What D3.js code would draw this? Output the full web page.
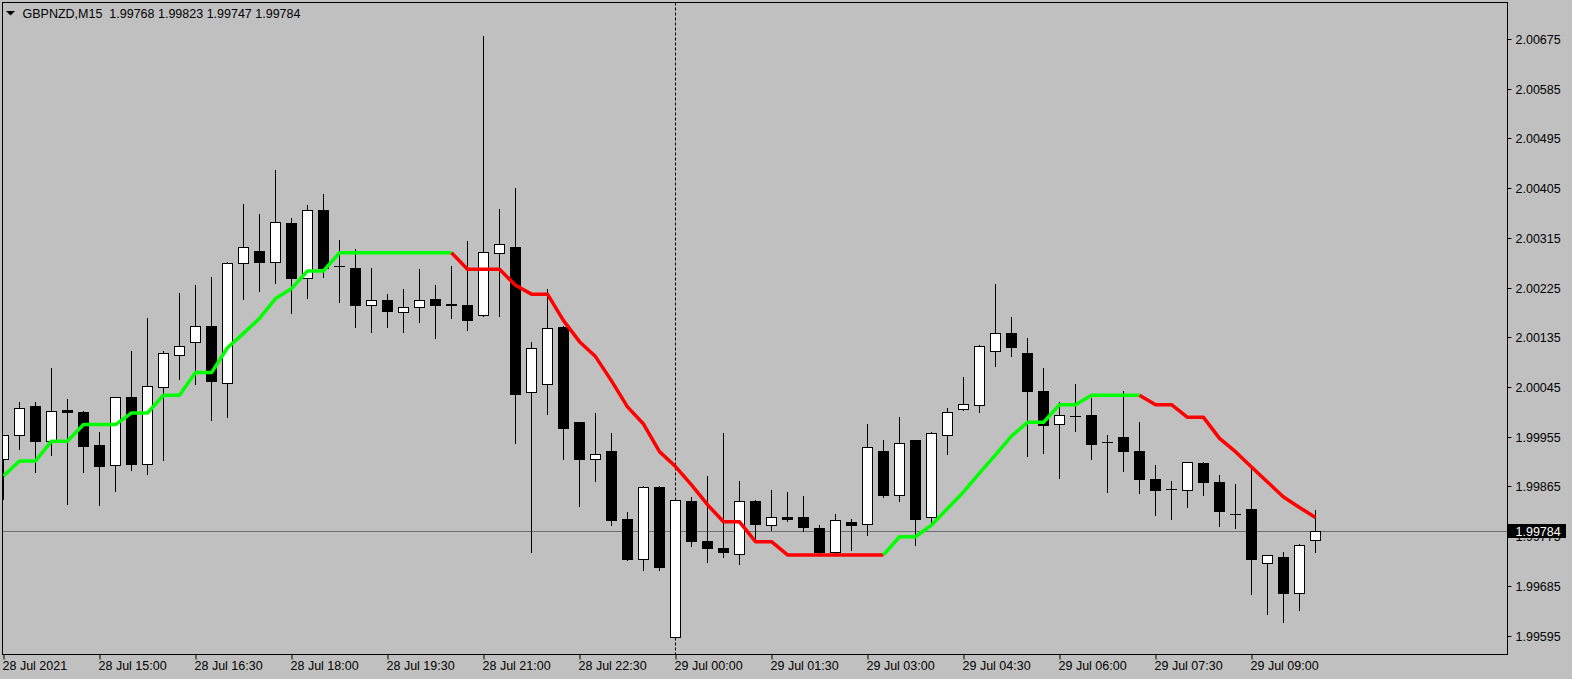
<!DOCTYPE html>
<html><head><meta charset="utf-8">
<script src="https://cdn.jsdelivr.net/npm/d3@7"></script>
<style>
html,body{margin:0;padding:0;background:#c0c0c0;overflow:hidden}
svg{display:block}
text{font-family:"Liberation Sans",Arial,sans-serif;font-size:12.5px}
</style></head><body>
<svg id="c" width="1572" height="679"></svg>
<script>
const symbol = "GBPNZD,M15";
const lastOHLC = [1.99768, 1.99823, 1.99747, 1.99784];

const opens = [1.99915,1.99958,2.00010,1.99947,2.00004,2.00000,1.99941,1.99904,2.00027,1.99906,
2.00045,2.00103,2.00127,2.00156,2.00052,2.00270,2.00292,2.00271,2.00341,2.00242,
2.00366,2.00264,2.00260,2.00194,2.00202,2.00180,2.00189,2.00204,2.00195,2.00194,
2.00176,2.00287,2.00299,2.00036,2.00050,2.00154,1.99981,1.99914,1.99929,1.99806,
1.99733,1.99864,1.99593,1.99838,1.99767,1.99754,1.99743,1.99839,1.99795,1.99810,
1.99810,1.99790,1.99746,1.99800,1.99797,1.99929,1.99850,1.99949,1.99810,1.99958,
2.00005,2.00013,2.00111,2.00143,2.00107,2.00038,1.99978,1.99993,1.99994,1.99945,
1.99955,1.99929,1.99879,1.99860,1.99859,1.99908,1.99874,1.99816,1.99825,1.99727,
1.99738,1.99672,1.99768];

const highs = [1.99960,2.00019,2.00019,2.00080,2.00025,2.00002,1.99964,2.00028,2.00111,2.00171,
2.00112,2.00216,2.00230,2.00245,2.00272,2.00377,2.00359,2.00438,2.00352,2.00375,
2.00395,2.00312,2.00296,2.00262,2.00214,2.00223,2.00259,2.00230,2.00265,2.00310,
2.00681,2.00368,2.00406,2.00128,2.00224,2.00156,1.99982,1.99999,1.99962,1.99820,
1.99866,1.99866,1.99843,1.99846,1.99885,1.99962,1.99876,1.99841,1.99859,1.99856,
1.99848,1.99797,1.99816,1.99807,1.99979,1.99950,1.99991,1.99950,1.99964,2.00008,
2.00064,2.00122,2.00232,2.00172,2.00134,2.00080,2.00018,2.00052,2.00026,1.99959,
2.00038,1.99982,1.99904,1.99876,1.99910,1.99910,1.99886,1.99870,1.99901,1.99742,
1.99747,1.99762,1.99823];

const lows = [1.99844,1.99934,1.99892,1.99923,1.99835,1.99892,1.99833,1.99858,1.99895,1.99889,
1.99914,2.00061,2.00051,1.99987,1.99992,2.00206,2.00220,2.00234,2.00180,2.00207,
2.00245,2.00200,2.00155,2.00146,2.00155,2.00146,2.00163,2.00135,2.00171,2.00149,
2.00175,2.00174,1.99944,1.99748,1.99997,1.99916,1.99831,1.99876,1.99797,1.99732,
1.99714,1.99714,1.99592,1.99759,1.99730,1.99739,1.99726,1.99771,1.99788,1.99804,
1.99786,1.99745,1.99745,1.99751,1.99778,1.99846,1.99840,1.99760,1.99795,1.99925,
2.00004,2.00000,2.00084,2.00102,1.99921,1.99927,1.99881,1.99967,1.99916,1.99856,
1.99894,1.99854,1.99814,1.99807,1.99829,1.99851,1.99795,1.99791,1.99672,1.99636,
1.99621,1.99643,1.99747];

const closes = [1.99958,2.00007,1.99947,2.00002,2.00000,1.99939,1.99903,2.00027,1.99905,2.00047,
2.00107,2.00119,2.00156,2.00056,2.00270,2.00299,2.00271,2.00343,2.00242,2.00366,
2.00261,2.00264,2.00194,2.00202,2.00183,2.00189,2.00202,2.00193,2.00194,2.00167,
2.00290,2.00304,2.00033,2.00115,2.00152,1.99970,1.99914,1.99924,1.99805,1.99734,
1.99864,1.99720,1.99841,1.99766,1.99753,1.99746,1.99839,1.99797,1.99810,1.99806,
1.99791,1.99747,1.99804,1.99795,1.99937,1.99849,1.99944,1.99807,1.99962,2.00000,
2.00014,2.00120,2.00143,2.00117,2.00037,1.99977,1.99994,1.99993,1.99942,1.99945,
1.99930,1.99878,1.99858,1.99860,1.99909,1.99873,1.99820,1.99816,1.99733,1.99741,
1.99672,1.99759,1.99784];

const trendLine = [1.99885,1.99912,1.99912,1.99948,1.99948,1.99978,1.99978,1.99978,1.99999,1.99999,
2.00031,2.00031,2.00072,2.00072,2.00117,2.00143,2.00170,2.00206,2.00224,2.00256,
2.00256,2.00289,2.00289,2.00289,2.00289,2.00289,2.00289,2.00289,2.00289,2.00259,
2.00259,2.00259,2.00230,2.00214,2.00214,2.00166,2.00128,2.00101,2.00057,2.00010,
1.99979,1.99929,1.99902,1.99869,1.99833,1.99802,1.99802,1.99766,1.99766,1.99742,
1.99742,1.99742,1.99742,1.99742,1.99742,1.99742,1.99775,1.99775,1.99796,1.99826,
1.99856,1.99890,1.99923,1.99957,1.99982,1.99982,2.00014,2.00014,2.00031,2.00031,
2.00031,2.00031,2.00014,2.00014,1.99991,1.99991,1.99953,1.99929,1.99901,1.99874,
1.99847,1.99828,1.99810];

// 1 = up (green), 0 = down (red)
const trendDir = [1,1,1,1,1,1,1,1,1,1, 1,1,1,1,1,1,1,1,1,1, 1,1,1,1,1,1,1,1,1,0,
0,0,0,0,0,0,0,0,0,0, 0,0,0,0,0,0,0,0,0,0, 0,0,0,0,0,0,1,1,1,1,
1,1,1,1,1,1,1,1,1,1, 1,1,0,0,0,0,0,0,0,0, 0,0,0];

const priceTicks = [2.00675,2.00585,2.00495,2.00405,2.00315,2.00225,2.00135,2.00045,1.99955,1.99865,1.99775,1.99685,1.99595];
const timeLabels = ["28 Jul 2021","28 Jul 15:00","28 Jul 16:30","28 Jul 18:00","28 Jul 19:30","28 Jul 21:00","28 Jul 22:30",
"29 Jul 00:00","29 Jul 01:30","29 Jul 03:00","29 Jul 04:30","29 Jul 06:00","29 Jul 07:30","29 Jul 09:00"];
const timeLabelBars = [0,6,12,18,24,30,36,42,48,54,60,66,72,78];
const separatorBar = 42;

const W = 1572, H = 679;
const plot = {left: 2.5, right: 1507.5, top: 2.5, bottom: 654.5};
const svg = d3.select("#c");

const n = closes.length;
const x = d3.scaleLinear().domain([0, n - 1]).range([3.5, 3.5 + 16 * (n - 1)]);
const y = d3.scaleLinear().domain([1.99595, 2.00675]).range([636.2, 39.4]);
const snap = v => Math.round(v - 0.5) + 0.5;

svg.append("defs").append("clipPath").attr("id", "clip")
  .append("rect").attr("x", plot.left).attr("y", plot.top)
  .attr("width", plot.right - plot.left).attr("height", plot.bottom - plot.top);

const g = svg.append("g").attr("clip-path", "url(#clip)");

// current price line
const lastClose = lastOHLC[3];
g.append("line").attr("x1", plot.left).attr("x2", plot.right)
  .attr("y1", snap(y(lastClose))).attr("y2", snap(y(lastClose)))
  .attr("stroke", "#6e6e6e").attr("stroke-width", 1);

// period separator
g.append("line").attr("x1", x(separatorBar)).attr("x2", x(separatorBar))
  .attr("y1", plot.top).attr("y2", plot.bottom)
  .attr("stroke", "#000").attr("stroke-width", 1).attr("stroke-dasharray", "3,2");

// candles
const idx = d3.range(n);
const cg = g.append("g");
cg.selectAll("line.wick").data(idx).join("line").attr("class", "wick")
  .attr("x1", i => x(i)).attr("x2", i => x(i))
  .attr("y1", i => Math.round(y(highs[i]))).attr("y2", i => Math.round(y(lows[i])) + 1)
  .attr("stroke", "#000").attr("stroke-width", 1);

idx.forEach(i => {
  const yo = snap(y(opens[i])), yc = snap(y(closes[i]));
  const cx = x(i);
  if (Math.abs(yo - yc) < 1) {
    cg.append("line").attr("x1", cx - 5.5).attr("x2", cx + 5.5)
      .attr("y1", yo).attr("y2", yo).attr("stroke", "#000").attr("stroke-width", 1);
  } else {
    const up = closes[i] > opens[i];
    cg.append("rect").attr("x", cx - 5).attr("width", 10)
      .attr("y", Math.min(yo, yc)).attr("height", Math.abs(yo - yc))
      .attr("fill", up ? "#fff" : "#000").attr("stroke", "#000").attr("stroke-width", 1);
  }
});

// trend indicator line, coloured by direction
const runs = [];
for (let i = 1; i < n; i++) {
  const c = trendDir[i];
  if (runs.length && runs[runs.length - 1].c === c) runs[runs.length - 1].pts.push(i);
  else runs.push({c, pts: [i - 1, i]});
}
const line = d3.line().x(i => x(i)).y(i => y(trendLine[i]));
g.selectAll("path.trend").data(runs).join("path").attr("class", "trend")
  .attr("d", r => line(r.pts)).attr("fill", "none")
  .attr("stroke", r => r.c ? "#00ff00" : "#ff0000")
  .attr("stroke-width", 3.5).attr("stroke-linejoin", "round").attr("stroke-linecap", "butt");

// frame
svg.append("rect").attr("x", plot.left).attr("y", plot.top)
  .attr("width", plot.right - plot.left).attr("height", plot.bottom - plot.top)
  .attr("fill", "none").attr("stroke", "#000").attr("stroke-width", 1);

// price axis
const ya = svg.append("g").attr("transform", `translate(${plot.right},0)`)
  .call(d3.axisRight(y).tickValues(priceTicks).tickFormat(d3.format(".5f")).tickSize(4).tickPadding(4));
ya.select(".domain").remove();
ya.selectAll(".tick line").attr("stroke", "#000");
ya.selectAll(".tick").attr("transform", d => `translate(0,${snap(y(d))})`);
ya.selectAll("text").attr("fill", "#000").attr("dy", "0.36em");
ya.attr("font-family", null).attr("font-size", null);

// time axis
const xa = svg.append("g").attr("transform", `translate(0,${plot.bottom})`)
  .call(d3.axisBottom(x).tickValues(timeLabelBars).tickFormat((d, i) => timeLabels[i]).tickSize(5).tickPadding(2));
xa.select(".domain").remove();
xa.selectAll(".tick line").attr("stroke", "#000");
xa.selectAll("text").attr("text-anchor", "start").attr("x", -1.5).attr("fill", "#000");
xa.attr("font-family", null).attr("font-size", null);

// current price box
const yl = y(lastClose);
svg.append("rect").attr("x", plot.right + 0.5).attr("y", Math.round(yl) - 8)
  .attr("width", 58).attr("height", 14).attr("fill", "#000");
svg.append("text").attr("x", plot.right + 8).attr("y", yl).attr("dy", "0.36em")
  .attr("fill", "#fff").text(d3.format(".5f")(lastClose));

// title
svg.append("path").attr("d", "M6,11 L15,11 L10.5,15.5 Z").attr("fill", "#000");
svg.append("text").attr("x", 22.5).attr("y", 17.5).style("white-space", "pre").attr("fill", "#000")
  .text(symbol + "  " + lastOHLC.map(d3.format(".5f")).join(" "));
</script>
</body></html>
